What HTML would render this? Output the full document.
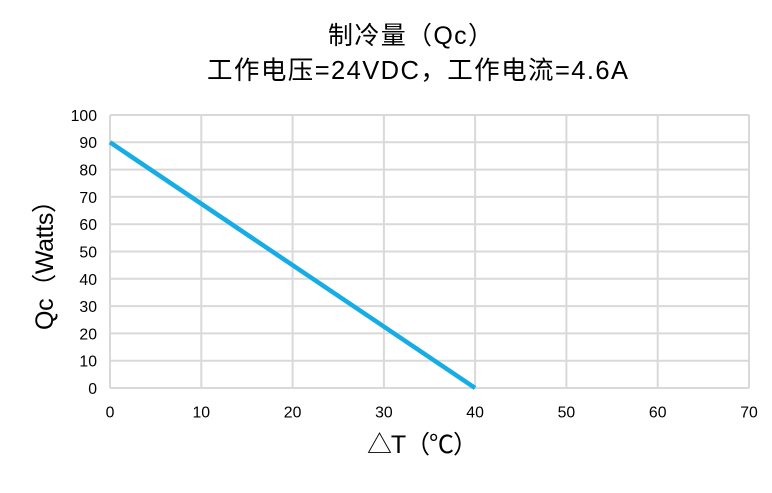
<!DOCTYPE html>
<html><head><meta charset="utf-8"><style>
html,body{margin:0;padding:0;background:#fff;}
svg{display:block;}
text{font-family:"Liberation Sans","Noto Sans CJK SC",sans-serif;fill:#000;}
</style></head><body>
<svg width="772" height="493" viewBox="0 0 772 493" xmlns="http://www.w3.org/2000/svg">
<rect width="772" height="493" fill="#fff"/>
<g stroke="#d9d9d9" stroke-width="2" fill="none">
<line x1="110" y1="115" x2="749" y2="115"/>
<line x1="110" y1="142.3" x2="749" y2="142.3"/>
<line x1="110" y1="169.6" x2="749" y2="169.6"/>
<line x1="110" y1="196.9" x2="749" y2="196.9"/>
<line x1="110" y1="224.2" x2="749" y2="224.2"/>
<line x1="110" y1="251.5" x2="749" y2="251.5"/>
<line x1="110" y1="278.8" x2="749" y2="278.8"/>
<line x1="110" y1="306.1" x2="749" y2="306.1"/>
<line x1="110" y1="333.4" x2="749" y2="333.4"/>
<line x1="110" y1="360.7" x2="749" y2="360.7"/>
<line x1="110" y1="388" x2="749" y2="388"/>
<line x1="110" y1="115" x2="110" y2="388"/>
<line x1="201.3" y1="115" x2="201.3" y2="388"/>
<line x1="292.6" y1="115" x2="292.6" y2="388"/>
<line x1="383.9" y1="115" x2="383.9" y2="388"/>
<line x1="475.1" y1="115" x2="475.1" y2="388"/>
<line x1="566.4" y1="115" x2="566.4" y2="388"/>
<line x1="657.7" y1="115" x2="657.7" y2="388"/>
<line x1="749" y1="115" x2="749" y2="388"/>
</g>
<line x1="110" y1="142.3" x2="475.1" y2="388" stroke="#16ACE5" stroke-width="4.5" stroke-linecap="butt"/>
<g font-size="15.8" text-anchor="end">
<text x="97" y="121">100</text>
<text x="97" y="148">90</text>
<text x="97" y="175.5">80</text>
<text x="97" y="203">70</text>
<text x="97" y="230">60</text>
<text x="97" y="257.5">50</text>
<text x="97" y="285">40</text>
<text x="97" y="312">30</text>
<text x="97" y="339.5">20</text>
<text x="97" y="366.5">10</text>
<text x="97" y="394">0</text>
</g>
<g font-size="15.8" text-anchor="middle">
<text x="110" y="417.5">0</text>
<text x="201.3" y="417.5">10</text>
<text x="292.6" y="417.5">20</text>
<text x="383.9" y="417.5">30</text>
<text x="475.1" y="417.5">40</text>
<text x="566.4" y="417.5">50</text>
<text x="657.7" y="417.5">60</text>
<text x="749" y="417.5">70</text>
</g>
<text x="328" y="44" font-size="25" textLength="165" lengthAdjust="spacing">制冷量（Qc）</text>
<text x="207" y="79" font-size="25.5" textLength="421" lengthAdjust="spacing">工作电压=24VDC，工作电流=4.6A</text>
<text x="367" y="453" font-size="25" textLength="111" lengthAdjust="spacing">△T（℃）</text>
<text transform="translate(53,330) rotate(-90)" font-size="25" textLength="142" lengthAdjust="spacing">Qc（Watts）</text>
</svg>
</body></html>
